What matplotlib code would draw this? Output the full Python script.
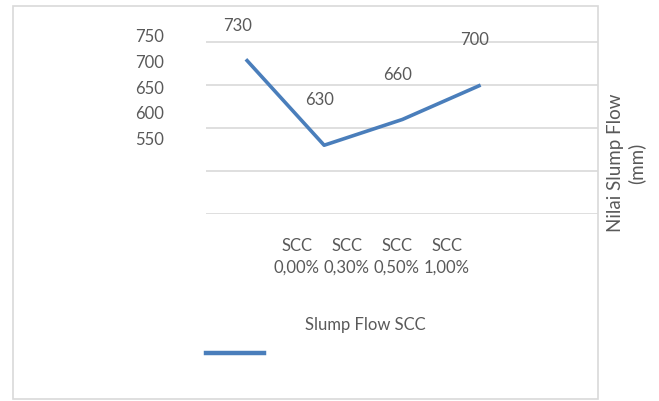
import matplotlib

matplotlib.use("Agg")
import matplotlib.pyplot as plt
from matplotlib.patches import Rectangle

categories = ["SCC\n0,00%", "SCC\n0,30%", "SCC\n0,50%", "SCC\n1,00%"]
slump_flow = [730, 630, 660, 700]
y_tick_labels = [750, 700, 650, 600, 550]
series_name = "Slump Flow SCC"
y_label = "Nilai Slump Flow\n(mm)"

TEXT = "#595959"
GRID = "#d9d9d9"
LINE = "#4a7ebb"

plt.rcParams.update({"font.family": ["Lato", "DejaVu Sans"], "font.size": 12})

W, H = 659, 401
fig = plt.figure(figsize=(W / 100, H / 100), dpi=100)


def fx(px):
    return px / W


def fy(py):
    return 1 - py / H


# outer chart border
fig.patches.append(Rectangle((fx(13), fy(399)), fx(598) - fx(13), fy(6) - fy(399),
                             transform=fig.transFigure, fill=False,
                             edgecolor=GRID, linewidth=1.2))

ax = fig.add_axes([fx(206), fy(214), fx(598) - fx(206), fy(6) - fy(214)])
ax.set_facecolor("none")
x = list(range(len(slump_flow)))
ax.plot(x, slump_flow, color=LINE, linewidth=2.6, solid_capstyle="butt")
ax.set_xlim(-0.51, 4.5)
ax.set_ylim(550, 792)
for v in range(550, 751, 50):
    ax.axhline(v, color=GRID, linewidth=1.2, zorder=0)
for s in ax.spines.values():
    s.set_visible(False)
ax.set_xticks([])
ax.set_yticks([])

# data labels
offsets = [(-8, 33), (-5, 45), (-5, 44), (-6, 45)]
for xi, v, (dx, dy) in zip(x, slump_flow, offsets):
    ax.annotate(str(v), (xi, v), xytext=(dx, dy), textcoords="offset pixels",
                ha="center", va="center", color=TEXT, annotation_clip=False)

# y tick labels (misplaced as in the original)
for i, t in enumerate(y_tick_labels):
    fig.text(fx(150), fy(37 + i * 25.8), str(t), ha="center", va="center", color=TEXT)

# category labels (squeezed as in the original)
for i, c in enumerate(categories):
    fig.text(fx(297 + 50 * i), fy(257), c, ha="center", va="center", color=TEXT,
             linespacing=1.42)

# axis title on the right
fig.text(fx(626), fy(163), y_label, rotation=90, ha="center", va="center",
         color=TEXT, fontsize=13.5, linespacing=1.2)

# legend
fig.lines.append(plt.Line2D([fx(206), fx(264)], [fy(353), fy(353)],
                            transform=fig.transFigure, color=LINE, linewidth=3.2))
fig.text(fx(365), fy(325), series_name, ha="center", va="center", color=TEXT)

fig.savefig("out.png", dpi=100, facecolor="white")
